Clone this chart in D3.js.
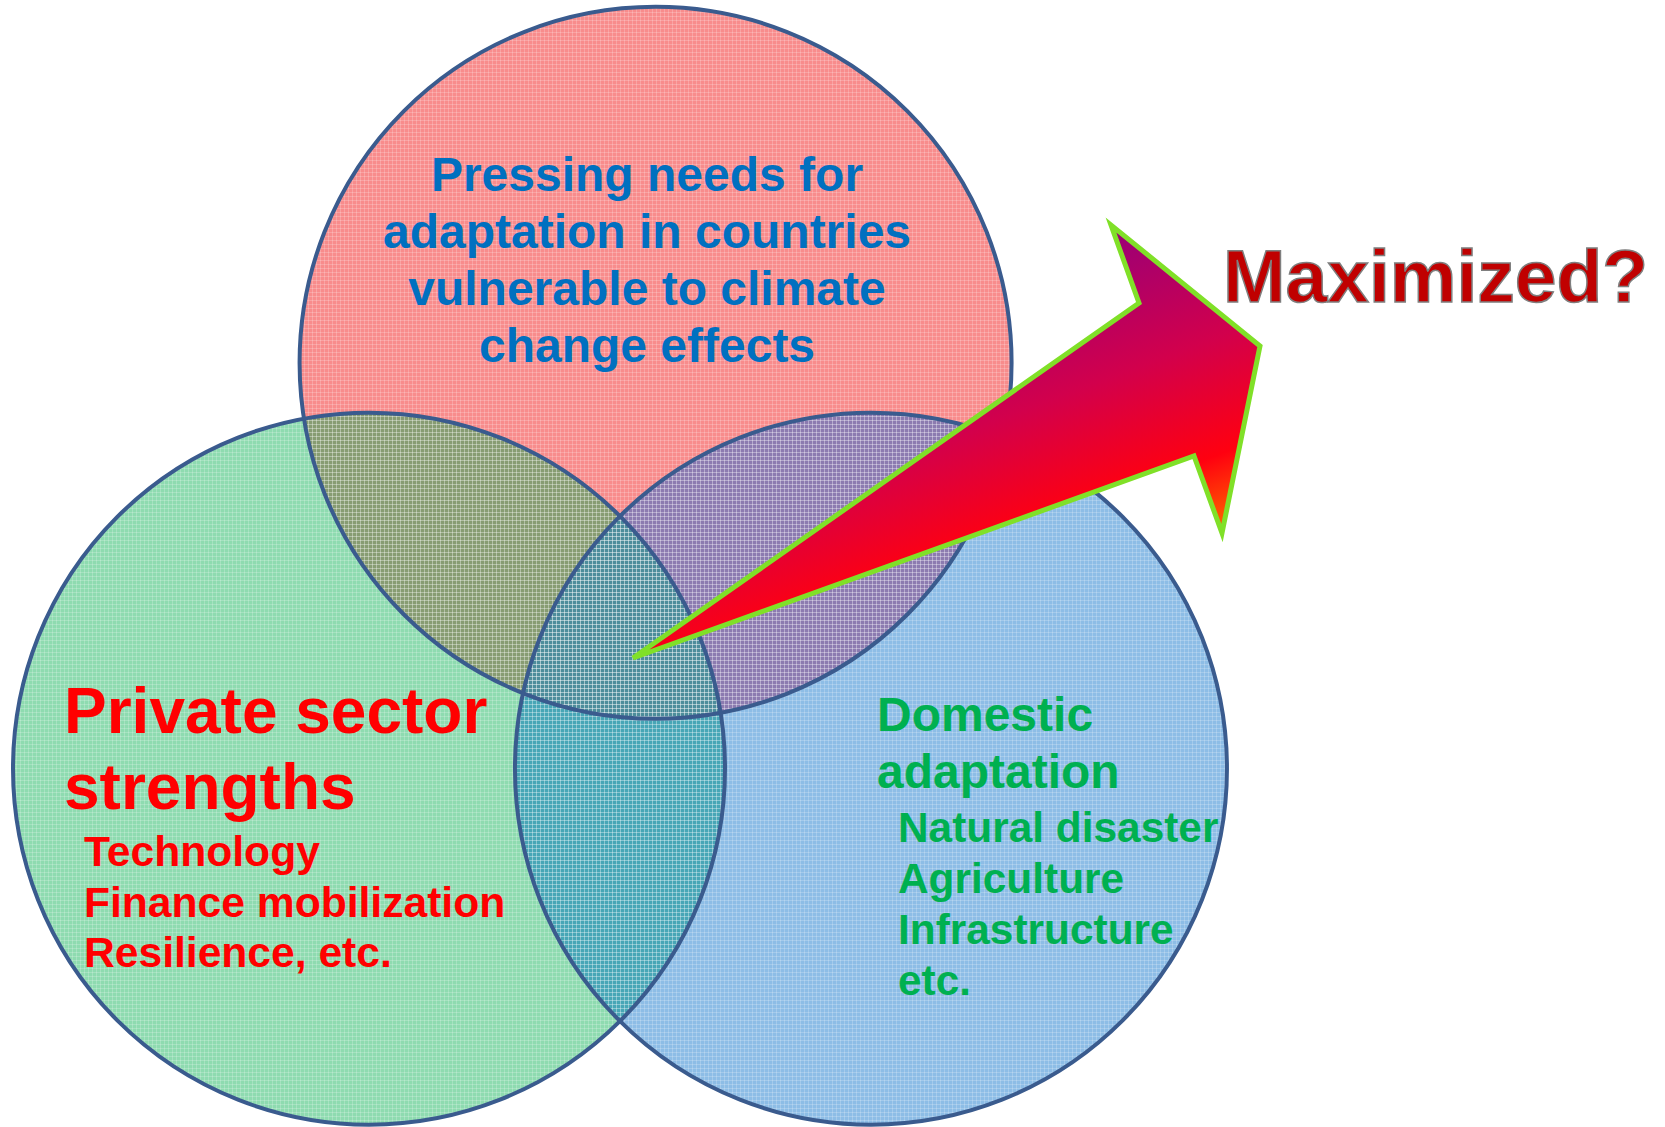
<!DOCTYPE html>
<html>
<head>
<meta charset="utf-8">
<script src="https://cdn.jsdelivr.net/npm/d3@7"></script>
<style>
  html,body{margin:0;padding:0;background:#fff;}
  svg text{font-family:Arial,"Liberation Sans",sans-serif;font-weight:bold;}
</style>
</head>
<body>
<div id="svg-container"></div>
<script>
// set names / labels
const setNames=["top","left","right"];
const topLines=["Pressing needs for","adaptation in countries","vulnerable to climate","change effects"];
const leftHead=["Private sector","strengths"];
const leftItems=["Technology","Finance mobilization","Resilience, etc."];
const rightHead=["Domestic","adaptation"];
const rightItems=["Natural disaster","Agriculture","Infrastructure","etc."];
const callout="Maximized?";

// venn layout in abstract units (radius = 1)
const centers={top:[0.805,-0.7],left:[0,0.44],right:[1.41,0.44]};

const w=1665;
const h=1127;

window.onload=()=>{
  const svg=d3.select("#svg-container").append("svg").attr("width",w).attr("height",h);
  svg.append("rect").attr("width",w).attr("height",h).attr("fill","#fff");

  const R=356;
  const x=d3.scaleLinear().domain([0,1]).range([369,369+R]);
  const y=d3.scaleLinear().domain([0,1]).range([612,612+R]);
  const cx=k=>x(centers[k][0]);
  const cy=k=>y(centers[k][1]);

  const fills={top:"#f88c8c",left:"#8edbb0",right:"#8dbde6"};
  const defs=svg.append("defs");
  setNames.forEach(k=>{
    defs.append("clipPath").attr("id","clip-"+k)
      .append("circle").attr("cx",cx(k)).attr("cy",cy(k)).attr("r",R);
  });

  // fine grid texture
  const pat=defs.append("pattern").attr("id","tex").attr("width",4).attr("height",4)
    .attr("patternUnits","userSpaceOnUse");
  pat.append("rect").attr("x",0).attr("y",0).attr("width",4).attr("height",1).attr("fill","#fff").attr("opacity",0.2);
  pat.append("rect").attr("x",0).attr("y",0).attr("width",1).attr("height",4).attr("fill","#fff").attr("opacity",0.2);

  const grad=defs.append("linearGradient").attr("id","arrowGrad")
    .attr("gradientUnits","userSpaceOnUse")
    .attr("x1",1100).attr("y1",230).attr("x2",1210).attr("y2",525);
  grad.append("stop").attr("offset",0).attr("stop-color","#980078");
  grad.append("stop").attr("offset",0.45).attr("stop-color","#d2004c");
  grad.append("stop").attr("offset",0.8).attr("stop-color","#ff0010");
  grad.append("stop").attr("offset",1).attr("stop-color","#ff5a00");

  const venn=svg.append("g");
  venn.selectAll("circle.fill").data(setNames).enter().append("circle")
    .attr("class","fill")
    .attr("cx",cx).attr("cy",cy).attr("r",R)
    .attr("fill",k=>fills[k]);

  const overlaps=[
    {clip:["top"],shape:"left",color:"#879c72"},
    {clip:["top"],shape:"right",color:"#8c7bb0"},
    {clip:["left"],shape:"right",color:"#48a6b6"},
    {clip:["top","left"],shape:"right",color:"#4d8d9b"}
  ];
  overlaps.forEach(o=>{
    let g=venn;
    o.clip.forEach(c=>{g=g.append("g").attr("clip-path","url(#clip-"+c+")");});
    g.append("circle").attr("cx",cx(o.shape)).attr("cy",cy(o.shape)).attr("r",R).attr("fill",o.color);
  });

  venn.selectAll("circle.tex").data(setNames).enter().append("circle")
    .attr("class","tex")
    .attr("cx",cx).attr("cy",cy).attr("r",R)
    .attr("fill","url(#tex)");

  venn.selectAll("circle.edge").data(setNames).enter().append("circle")
    .attr("class","edge")
    .attr("cx",cx).attr("cy",cy).attr("r",R)
    .attr("fill","none").attr("stroke","#3a5b8e").attr("stroke-width",4);

  // texts
  const topText=svg.append("g");
  topText.selectAll("text").data(topLines).enter().append("text")
    .attr("x",647).attr("y",(d,i)=>191+i*57)
    .attr("text-anchor","middle").attr("font-size",48).attr("fill","#0070c0")
    .text(d=>d);

  svg.append("g").selectAll("text").data(leftHead).enter().append("text")
    .attr("x",64).attr("y",(d,i)=>733+i*76)
    .attr("font-size",64).attr("fill","#ff0000").text(d=>d);
  svg.append("g").selectAll("text").data(leftItems).enter().append("text")
    .attr("x",84).attr("y",(d,i)=>866+i*50.5)
    .attr("font-size",42.6).attr("fill","#ff0000").text(d=>d);

  svg.append("g").selectAll("text").data(rightHead).enter().append("text")
    .attr("x",877).attr("y",(d,i)=>731+i*57)
    .attr("font-size",48).attr("fill","#00b050").text(d=>d);
  svg.append("g").selectAll("text").data(rightItems).enter().append("text")
    .attr("x",898).attr("y",(d,i)=>842+i*51)
    .attr("font-size",42.4).attr("fill","#00b050").text(d=>d);

  // arrow
  const arrowPts=[[633,658],[1139,303],[1111,225],[1260,346],[1222,533],[1194,456]];
  svg.append("path")
    .attr("d",d3.line()(arrowPts)+"Z")
    .attr("fill","url(#arrowGrad)")
    .attr("stroke","#80e028").attr("stroke-width",5).attr("stroke-linejoin","miter");

  svg.append("text").attr("x",1223).attr("y",302)
    .attr("font-size",75).attr("fill","#c00000")
    .attr("stroke","#7f7f7f").attr("stroke-width",1.5)
    .text(callout);
};
</script>
</body>
</html>
